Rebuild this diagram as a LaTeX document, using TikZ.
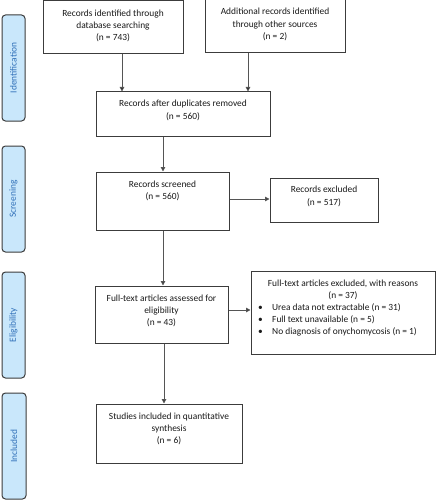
\documentclass[tikz,border=0pt]{standalone}
\usepackage{fontspec}
\setmainfont{Carlito}
\usetikzlibrary{arrows.meta}
\definecolor{sidefill}{HTML}{C9E7FB}
\definecolor{sidetext}{HTML}{2F6FB8}
\definecolor{edge}{HTML}{3C3C3C}
\definecolor{arrowgray}{HTML}{555555}
\tikzset{
  box/.style={draw=edge, line width=1pt, fill=white, inner sep=0pt},
  txt/.style={align=center, inner sep=0pt, text=black!90, font=\fontsize{9.4}{12.3}\selectfont},
  side/.style={draw=edge, line width=1pt, fill=sidefill, rounded corners=3.5pt, inner sep=0pt},
  sidelabel/.style={text=sidetext, rotate=90, inner sep=0pt, font=\fontsize{9.4}{12}\selectfont},
  flow/.style={draw=arrowgray, line width=1pt, -{Triangle[length=4.5pt,width=4.5pt,fill=black]}}
}
\begin{document}
\begin{tikzpicture}[x=1pt,y=-1pt]
\useasboundingbox (0,0) rectangle (436,500);
% side panels
\node[side, minimum width=23pt, minimum height=106pt] (sid) at (13.5,68) {};
\node[sidelabel] (sidt) at (sid.center) {Identification};
\node[side, minimum width=23pt, minimum height=106pt] (sscr) at (13.5,199) {};
\node[sidelabel] (sscrt) at (sscr.center) {Screening};
\node[side, minimum width=23pt, minimum height=106pt] (selig) at (13.5,325) {};
\node[sidelabel] (seligt) at (selig.center) {Eligibility};
\node[side, minimum width=24pt, minimum height=106pt] (sinc) at (14,446) {};
\node[sidelabel] (sinct) at (sinc.center) {Included};
% boxes
\node[box, minimum width=140pt, minimum height=53pt] (b1) at (113,27.5) {};
\node[txt] (b1t) at (113,26) {Records identified through\\database searching\\(n = 743)};
\node[box, minimum width=140pt, minimum height=53pt] (b2) at (275,26.5) {};
\node[txt] (b2t) at (275,24.5) {Additional records identified\\through other sources\\(n = 2)};
\node[box, minimum width=174pt, minimum height=44pt] (b3) at (183,114) {};
\node[txt] (b3t) at (183,110.5) {Records after duplicates removed\\(n = 560)};
\node[box, minimum width=133pt, minimum height=58pt] (b4) at (162.5,201) {};
\node[txt] (b4t) at (162.5,191) {Records screened\\(n = 560)};
\node[box, minimum width=108pt, minimum height=44pt] (b5) at (324,200) {};
\node[txt] (b5t) at (324,196.5) {Records excluded\\(n = 517)};
\node[box, minimum width=133pt, minimum height=57pt] (b6) at (161.5,314.5) {};
\node[txt] (b6t) at (161.5,311) {Full-text articles assessed for\\eligibility\\(n = 43)};
\node[box, minimum width=184pt, minimum height=83pt] (b7) at (343,312.5) {};
\node[txt] (b7t) at (343,290) {Full-text articles excluded, with reasons\\(n = 37)};
\node[txt, align=left, anchor=north west] (b7l) at (258,303) {%
\makebox[14pt][l]{\textbullet}Urea data not extractable (n = 31)\\
\makebox[14pt][l]{\textbullet}Full text unavailable (n = 5)\\
\makebox[14pt][l]{\textbullet}No diagnosis of onychomycosis (n = 1)};
\node[box, minimum width=146pt, minimum height=59pt] (b8) at (169,433.5) {};
\node[txt] (b8t) at (169,429) {Studies included in quantitative\\synthesis\\(n = 6)};
% connectors
\draw[flow] (b1.south -| 122,0) -- (b3.north -| 122,0);
\draw[flow] (b2.south -| 248,0) -- (b3.north -| 248,0);
\draw[flow] (b3.south -| 163,0) -- (b4.north -| 163,0);
\draw[flow] (b4.east |- 0,199) -- (b5.west |- 0,199);
\draw[flow] (b4.south -| 163,0) -- (b6.north -| 163,0);
\draw[flow] (b6.east |- 0,310) -- (b7.west |- 0,310);
\draw[flow] (b6.south -| 164,0) -- (b8.north -| 164,0);
\end{tikzpicture}
\end{document}
